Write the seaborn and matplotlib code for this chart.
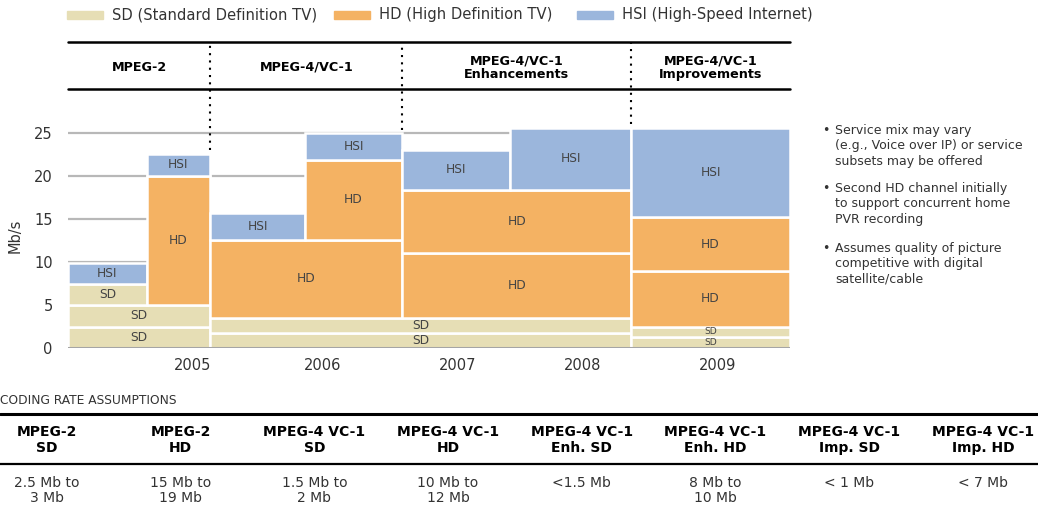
import matplotlib
matplotlib.use("Agg")
import matplotlib.pyplot as plt
import seaborn as sns
import numpy as np
import pandas as pd
from matplotlib.patches import Rectangle
from matplotlib.lines import Line2D

# ---------------- data ----------------
categories = ["SD", "HD", "HSI"]
legend_labels = ["SD (Standard Definition TV)", "HD (High Definition TV)", "HSI (High-Speed Internet)"]

# blocks: category, time-span start/end (0-100 timeline), low/high Mb/s
block_cat = ["SD", "SD", "SD", "HSI", "HD", "HSI",
             "SD", "SD", "HD", "HSI", "HD", "HSI",
             "HD", "HD", "HSI", "HSI",
             "SD", "SD", "HD", "HD", "HSI"]
block_start = [0, 0, 0, 0, 10.9, 10.9,
               19.7, 19.7, 19.7, 19.7, 32.8, 32.8,
               46.3, 46.3, 46.3, 61.2,
               78.0, 78.0, 78.0, 78.0, 78.0]
block_end = [19.7, 19.7, 10.9, 10.9, 19.7, 19.7,
             78.0, 78.0, 46.3, 32.8, 46.3, 46.3,
             78.0, 78.0, 61.2, 78.0,
             100, 100, 100, 100, 100]
block_low = [0, 2.5, 5.0, 7.5, 5.0, 20.0,
             0, 1.8, 3.5, 12.6, 12.6, 21.9,
             3.5, 11.0, 18.4, 18.4,
             0, 1.3, 2.5, 8.9, 15.2]
block_high = [2.5, 5.0, 7.5, 9.9, 20.0, 22.6,
              1.8, 3.5, 12.6, 15.7, 21.9, 25.0,
              11.0, 18.4, 23.0, 25.6,
              1.3, 2.5, 8.9, 15.2, 25.6]

years = ["2005", "2006", "2007", "2008", "2009"]
year_at = [17.3, 35.3, 53.9, 71.3, 89.9]
y_ticks = [0, 5, 10, 15, 20, 25]

phase_labels = ["MPEG-2", "MPEG-4/VC-1", "MPEG-4/VC-1\nEnhancements", "MPEG-4/VC-1\nImprovements"]
phase_bounds = [0, 19.7, 46.3, 78.0, 100]

notes = ["Service mix may vary\n(e.g., Voice over IP) or service\nsubsets may be offered",
         "Second HD channel initially\nto support concurrent home\nPVR recording",
         "Assumes quality of picture\ncompetitive with digital\nsatellite/cable"]

table_title = "CODING RATE ASSUMPTIONS"
table_headers = ["MPEG-2\nSD", "MPEG-2\nHD", "MPEG-4 VC-1\nSD", "MPEG-4 VC-1\nHD",
                 "MPEG-4 VC-1\nEnh. SD", "MPEG-4 VC-1\nEnh. HD", "MPEG-4 VC-1\nImp. SD", "MPEG-4 VC-1\nImp. HD"]
table_values = ["2.5 Mb to\n3 Mb", "15 Mb to\n19 Mb", "1.5 Mb to\n2 Mb", "10 Mb to\n12 Mb",
                "<1.5 Mb", "8 Mb to\n10 Mb", "< 1 Mb", "< 7 Mb"]

# ---------------- style ----------------
sns.set_theme(style="white")
plt.rcParams['font.family'] = ['DejaVu Sans']
palette = dict(zip(categories, sns.color_palette(["#E6DEB5", "#F4B263", "#9BB6DC"])))
TXT = "#333333"

W, H = 1038, 512
fig = plt.figure(figsize=(W / 100, H / 100), dpi=100)
fig.patch.set_facecolor("white")

def fx(px):
    return px / W

def fy(py):
    return 1 - py / H

PX_PER_UNIT = 8.6
YMAX = 26
ax_left, ax_right, ax_base = 68, 790, 348
ax = fig.add_axes([fx(ax_left), fy(ax_base), (ax_right - ax_left) / W, YMAX * PX_PER_UNIT / H])
ax.set_xlim(0, 100)
ax.set_ylim(0, YMAX)
for s in ax.spines.values():
    s.set_visible(False)

df = pd.DataFrame({"kind": block_cat, "x0": block_start, "x1": block_end,
                   "y0": block_low, "y1": block_high})

ax.set_axisbelow(True)
ax.set_yticks(y_ticks)
ax.set_yticklabels([str(t) for t in y_ticks], fontsize=10.5, color=TXT)
ax.yaxis.grid(True, color="#B8B8B8", linewidth=1.6)
ax.xaxis.grid(False)
ax.tick_params(axis="y", length=0, pad=11)
ax.set_xticks(year_at)
ax.set_xticklabels(years, fontsize=10.5, color=TXT)
ax.tick_params(axis="x", length=0, pad=7)
ax.set_ylabel("Mb/s", fontsize=10.5, color=TXT, labelpad=8)

ax.bar(df["x0"], df["y1"] - df["y0"], width=df["x1"] - df["x0"], bottom=df["y0"],
       align="edge", color=[palette[c] for c in df["kind"]], edgecolor="white",
       linewidth=1.8, zorder=2)
for r in df.itertuples():
    fs = 8.8 if (r.y1 - r.y0) >= 1.5 else 6.6
    ax.text((r.x0 + r.x1) / 2, (r.y0 + r.y1) / 2, r.kind, ha="center", va="center",
            fontsize=fs, color="#444444", zorder=4)

ax.axhline(0, color="#A5A5A5", linewidth=2.2, zorder=3, xmin=-0.003)

# ---------------- header band ----------------
hdr_top, hdr_bot = 42, 89
for py in (hdr_top, hdr_bot):
    fig.add_artist(Line2D([fx(ax_left), fx(ax_right)], [fy(py), fy(py)], color="black",
                          linewidth=1.8, transform=fig.transFigure))

def data_to_fig(x, y):
    return fig.transFigure.inverted().transform(ax.transData.transform((x, y)))

for i, lab in enumerate(phase_labels):
    cx = data_to_fig((phase_bounds[i] + phase_bounds[i + 1]) / 2, 0)[0]
    fig.text(cx, fy((hdr_top + hdr_bot) / 2 + 2), lab, ha="center", va="center",
             fontsize=9.2, fontweight="bold", color="black", linespacing=1.05)

for b in phase_bounds[1:-1]:
    touching = df[(np.isclose(df.x0, b)) | (np.isclose(df.x1, b))]
    top = touching.y1.max()
    xf, yb = data_to_fig(b, top + 0.4)
    fig.add_artist(Line2D([xf, xf], [yb, fy(hdr_top + 1)], color="black", linewidth=1.5,
                          linestyle=(0, (1, 2.5)), transform=fig.transFigure))

# ---------------- legend ----------------
leg_x = [67, 334, 577]
for i, c in enumerate(categories):
    fig.add_artist(Rectangle((fx(leg_x[i]), fy(19)), 36 / W, 8 / H, color=palette[c],
                             transform=fig.transFigure))
    fig.text(fx(leg_x[i] + 45), fy(15), legend_labels[i], ha="left", va="center",
             fontsize=10.6, color=TXT)

# ---------------- notes ----------------
note_top = [124, 182, 242]
for i, n in enumerate(notes):
    fig.text(fx(822), fy(note_top[i]), "\u2022", ha="left", va="top", fontsize=9, color=TXT)
    fig.text(fx(835), fy(note_top[i]), n, ha="left", va="top", fontsize=9.0,
             color=TXT, linespacing=1.25)

# ---------------- table ----------------
fig.text(fx(0), fy(401), table_title, ha="left", va="center", fontsize=8.8, color=TXT)
fig.add_artist(Line2D([0, 1], [fy(414), fy(414)], color="black", linewidth=2.2,
                      transform=fig.transFigure))
fig.add_artist(Line2D([0, 1], [fy(464), fy(464)], color="black", linewidth=1.6,
                      transform=fig.transFigure))
col_w = 133.7
for i, (h, v) in enumerate(zip(table_headers, table_values)):
    cx = fx(47 + col_w * i)
    fig.text(cx, fy(425), h, ha="center", va="top", fontsize=10, fontweight="bold",
             color="black", linespacing=1.15)
    fig.text(cx, fy(476), v, ha="center", va="top", fontsize=10, color=TXT, linespacing=1.12)

fig.savefig("out.png", dpi=100, facecolor="white")
